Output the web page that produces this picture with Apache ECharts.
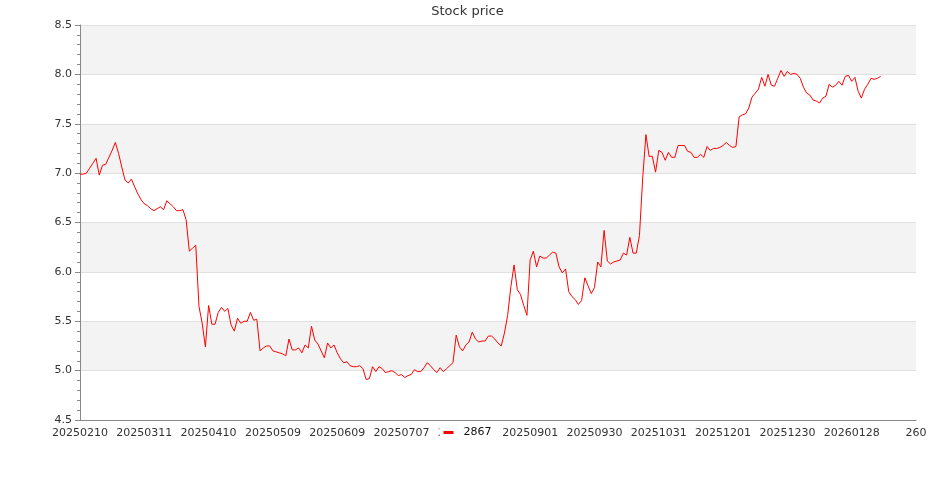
<!DOCTYPE html>
<html>
<head>
<meta charset="utf-8">
<title>Stock price</title>
<script src="https://cdn.jsdelivr.net/npm/echarts@6/dist/echarts.min.js"></script>
<style>
  html, body { margin: 0; padding: 0; background: #fff; }
  #chart { width: 935px; height: 500px; }
</style>
</head>
<body>
<div id="chart"></div>
<script>
// trading days, the last slot is the clipped label at the right end of the axis
const dates = [
  '20250210', '20250211', '20250212', '20250213', '20250214', '20250217', '20250218', '20250219', '20250220', '20250221',
  '20250224', '20250225', '20250226', '20250227',
  '20250303', '20250304', '20250305', '20250306', '20250307', '20250310', '20250311', '20250312', '20250313', '20250314',
  '20250317', '20250318', '20250319', '20250320', '20250321', '20250324', '20250325', '20250326', '20250327', '20250328',
  '20250331',
  '20250401', '20250402', '20250407', '20250408', '20250409', '20250410', '20250411', '20250414', '20250415', '20250416',
  '20250417', '20250418', '20250421', '20250422', '20250423', '20250424', '20250425', '20250428', '20250429', '20250430',
  '20250502', '20250505', '20250506', '20250507', '20250508', '20250509', '20250512', '20250513', '20250514', '20250515',
  '20250516', '20250519', '20250520', '20250521', '20250522', '20250523', '20250526', '20250527', '20250528', '20250529',
  '20250602', '20250603', '20250604', '20250605', '20250606', '20250609', '20250610', '20250611', '20250612', '20250613',
  '20250616', '20250617', '20250618', '20250619', '20250620', '20250623', '20250624', '20250625', '20250626', '20250627',
  '20250630',
  '20250701', '20250702', '20250703', '20250704', '20250707', '20250708', '20250709', '20250710', '20250711', '20250714',
  '20250715', '20250716', '20250717', '20250718', '20250721', '20250722', '20250723', '20250724', '20250725', '20250728',
  '20250729', '20250730', '20250731',
  '20250801', '20250804', '20250805', '20250806', '20250807', '20250808', '20250811', '20250812', '20250813', '20250814',
  '20250815', '20250818', '20250819', '20250820', '20250821', '20250822', '20250825', '20250826', '20250827', '20250828',
  '20250829',
  '20250901', '20250902', '20250903', '20250904', '20250905', '20250908', '20250909', '20250910', '20250911', '20250912',
  '20250915', '20250916', '20250917', '20250918', '20250919', '20250922', '20250923', '20250924', '20250925', '20250926',
  '20250930',
  '20251001', '20251002', '20251003', '20251007', '20251008', '20251009', '20251013', '20251014', '20251015', '20251016',
  '20251017', '20251020', '20251021', '20251022', '20251023', '20251027', '20251028', '20251029', '20251030', '20251031',
  '20251103', '20251104', '20251105', '20251106', '20251107', '20251110', '20251111', '20251113', '20251114', '20251117',
  '20251118', '20251119', '20251120', '20251121', '20251124', '20251125', '20251126', '20251127', '20251128',
  '20251201', '20251202', '20251203', '20251204', '20251205', '20251208', '20251209', '20251210', '20251211', '20251212',
  '20251215', '20251216', '20251217', '20251218', '20251219', '20251222', '20251223', '20251224', '20251226', '20251229',
  '20251230', '20251231',
  '20260102', '20260105', '20260106', '20260107', '20260108', '20260109', '20260112', '20260113', '20260114', '20260115',
  '20260116', '20260119', '20260120', '20260121', '20260122', '20260123', '20260126', '20260127', '20260128', '20260129',
  '20260130',
  '20260202', '20260203', '20260204', '20260205', '20260206', '20260209', '20260210', '20260211', '20260212', '20260223',
  '20260224', '20260225', '20260226', '20260302', '20260303', '20260304', '20260305', '260'
];

// closing prices, one per trading day from 20250210
const prices = [
  6.99, 6.99, 7.00, 7.05, 7.10, 7.15, 6.98, 7.08, 7.09, 7.16,
  7.23, 7.31, 7.20, 7.06, 6.93, 6.90, 6.94, 6.86, 6.79, 6.73,
  6.69, 6.67, 6.64, 6.62, 6.64, 6.66, 6.63, 6.72, 6.69, 6.66,
  6.62, 6.62, 6.63, 6.53, 6.21, 6.24, 6.27, 5.65, 5.48, 5.24,
  5.66, 5.47, 5.47, 5.59, 5.64, 5.60, 5.63, 5.46, 5.40, 5.53,
  5.48, 5.50, 5.50, 5.59, 5.51, 5.52, 5.20, 5.23, 5.25, 5.25,
  5.20, 5.19, 5.18, 5.17, 5.15, 5.32, 5.21, 5.21, 5.23, 5.18,
  5.26, 5.23, 5.45, 5.31, 5.27, 5.20, 5.13, 5.28, 5.23, 5.26,
  5.18, 5.12, 5.08, 5.09, 5.05, 5.04, 5.04, 5.05, 5.02, 4.91,
  4.92, 5.04, 4.99, 5.04, 5.02, 4.98, 4.99, 5.00, 4.98, 4.95,
  4.96, 4.93, 4.95, 4.96, 5.01, 4.99, 4.99, 5.03, 5.08, 5.05,
  5.01, 4.98, 5.03, 4.99, 5.02, 5.05, 5.08, 5.36, 5.24, 5.20,
  5.26, 5.29, 5.39, 5.32, 5.29, 5.30, 5.30, 5.35, 5.35, 5.32,
  5.28, 5.25, 5.38, 5.56, 5.85, 6.07, 5.82, 5.77, 5.66, 5.56,
  6.12, 6.21, 6.05, 6.16, 6.14, 6.14, 6.17, 6.20, 6.19, 6.05,
  5.99, 6.03, 5.80, 5.75, 5.72, 5.67, 5.71, 5.94, 5.86, 5.78,
  5.84, 6.10, 6.05, 6.42, 6.11, 6.08, 6.10, 6.11, 6.12, 6.19,
  6.17, 6.35, 6.19, 6.19, 6.37, 6.95, 7.39, 7.17, 7.17, 7.01,
  7.23, 7.21, 7.13, 7.21, 7.16, 7.16, 7.28, 7.28, 7.28, 7.22,
  7.21, 7.16, 7.16, 7.19, 7.16, 7.27, 7.23, 7.25, 7.25, 7.26,
  7.28, 7.31, 7.28, 7.26, 7.27, 7.57, 7.59, 7.60, 7.66, 7.77,
  7.81, 7.85, 7.97, 7.88, 8.00, 7.89, 7.88, 7.96, 8.04, 7.98,
  8.03, 8.00, 8.01, 8.00, 7.96, 7.87, 7.81, 7.79, 7.74, 7.73,
  7.71, 7.76, 7.78, 7.90, 7.87, 7.89, 7.93, 7.89, 7.98, 7.99,
  7.93, 7.97, 7.83, 7.76, 7.85, 7.90, 7.96, 7.95, 7.96, 7.98
];

const stockCode = '2867';
const yMin = 4.5;
const yMax = 8.5;
const yStep = 0.5;

const chart = echarts.init(document.getElementById('chart'), null, { renderer: 'canvas' });

const option = {
  animation: false,
  backgroundColor: '#ffffff',
  textStyle: { fontFamily: 'DejaVu Sans' },
  title: {
    text: 'Stock price',
    left: 'center',
    top: 0,
    textStyle: { fontSize: 13, fontWeight: 'normal', color: '#333' },
  },
  legend: {
    data: [stockCode],
    left: 'center',
    top: 425,
    icon: 'rect',
    itemWidth: 10,
    itemHeight: 3,
    padding: [2, 4],
    backgroundColor: '#ffffff',
    textStyle: { fontSize: 11, color: '#111', padding: [0, 0, 0, 5] },
  },
  grid: { left: 80, right: 19, top: 25, bottom: 80 },
  xAxis: {
    type: 'category',
    data: dates,
    boundaryGap: false,
    axisLine: { lineStyle: { color: '#888' } },
    axisTick: { show: false },
    axisLabel: { interval: 19, color: '#333', fontSize: 11, margin: 8 },
    splitLine: { show: false },
  },
  yAxis: {
    type: 'value',
    min: yMin,
    max: yMax,
    interval: yStep,
    axisLine: { show: true, lineStyle: { color: '#888' } },
    axisTick: { show: true, length: 5, lineStyle: { color: '#888' } },
    minorTick: { show: true, splitNumber: 5, length: 3, lineStyle: { color: '#888' } },
    axisLabel: {
      color: '#333',
      fontSize: 11,
      margin: 8,
      formatter: v => v.toFixed(1),
    },
    splitLine: { lineStyle: { color: '#e0e0e0' } },
    splitArea: { show: true, areaStyle: { color: ['rgba(255,255,255,0)', '#f3f3f3'] } },
  },
  series: [
    {
      name: stockCode,
      type: 'line',
      data: prices,
      symbol: 'none',
      color: '#ff0000',
      lineStyle: { width: 1, color: '#ff0000' },
    },
  ],
};

chart.setOption(option);
</script>
</body>
</html>
